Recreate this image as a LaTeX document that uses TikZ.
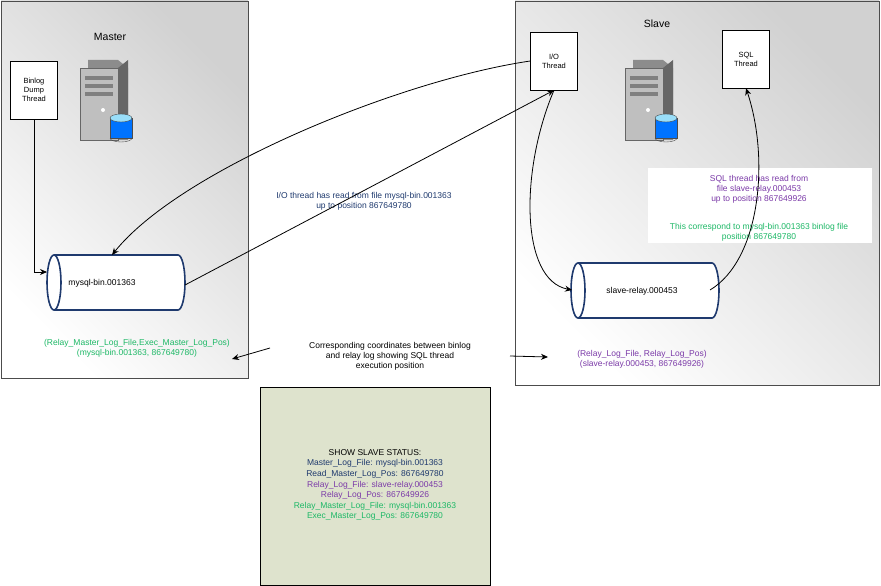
\documentclass[tikz,border=0pt]{standalone}
\usepackage{fontspec}
\setmainfont{Liberation Sans}
\usetikzlibrary{shapes.geometric,arrows.meta}
\definecolor{navy}{HTML}{1F3A6E}
\definecolor{grn}{HTML}{1DB866}
\definecolor{purp}{HTML}{7B3AA8}
\begin{document}
\begin{tikzpicture}[x=1pt,y=-1pt,
  every node/.style={font=\fontsize{8.5}{10}\selectfont,align=center,inner sep=1pt},
  panel/.style={draw=black!70,left color=white,right color=black!18,shading angle=135},
  thread/.style={draw,fill=white,minimum width=47,minimum height=58,font=\fontsize{7.5}{9}\selectfont},
  arr/.style={-{Stealth[length=7pt,width=6pt]},thick},
  cyl/.style={draw=navy,line width=1.6pt,fill=white}]
\useasboundingbox (0,0) rectangle (881,586);
\fill[panel] (1,1) rectangle (248,378);
\fill[panel] (515,1) rectangle (879,385);
\node[font=\fontsize{10.5}{12}\selectfont] (mt) at (110,37) {Master};
\node[font=\fontsize{10.5}{12}\selectfont] (st) at (657,24) {Slave};
% server icons
\foreach \cx/\nm in {105/m,650/s}{
  \begin{scope}[shift={(\cx,100)}]
  \fill[black!45] (-17,-40) -- (13,-40) -- (23,-32) -- (23,40) -- (-7,40) -- (-17,30) -- cycle;
  \fill[black!25,draw=black!60] (-25,-32) rectangle (13,40);
  \fill[black!60] (13,-32) -- (23,-40) -- (23,32) -- (13,40) -- cycle;
  \foreach \yy in {-24,-16,-8}{\fill[black!50] (-20,\yy) rectangle (8,\yy+4);}
  \fill[white] (-2,10) circle (2);
  \fill[blue!55!cyan,draw=black!70] (5,18) rectangle (27,38);
  \draw[black!70,fill=cyan!40] (16,18) ellipse (11pt and 4pt);
  \draw[black!70] (5,38) arc (180:360:11pt and 4pt);
  \end{scope}}
\node[thread] (bd) at (34,90) {Binlog\\Dump\\Thread};
\node[thread] (io) at (554,61) {I/O\\Thread};
\node[thread] (sql) at (746,59) {SQL\\Thread};
% cylinders
\draw[cyl] (54,255) -- (178,255) arc (90:-90:7pt and 27.5pt) -- (54,310) arc (270:90:7pt and 27.5pt) -- cycle;
\draw[cyl] (54,255) arc (90:-90:7pt and 27.5pt);
\node (mb) at (102,283) {mysql-bin.001363};
\coordinate (mbl) at (47,272);
\coordinate (mbr) at (185,285);
\draw[cyl] (578,263) -- (712,263) arc (90:-90:7pt and 27.5pt) -- (578,318) arc (270:90:7pt and 27.5pt) -- cycle;
\draw[cyl] (578,263) arc (90:-90:7pt and 27.5pt);
\node (sr) at (642,291) {slave-relay.000453};
% white note
\fill[white] (648,168) rectangle (872,243);
\node[text=purp] (n1) at (759,189) {SQL thread has read from\\file slave-relay.000453\\up to position 867649926};
\node[text=grn] (n2) at (759,232) {This correspond to mysql-bin.001363 binlog file\\position 867649780};
\node[text=navy] (io1) at (364,201) {I/O thread has read from file mysql-bin.001363\\up to position 867649780};
\node[text=grn] (g1) at (137,348) {(Relay\_Master\_Log\_File,Exec\_Master\_Log\_Pos)\\(mysql-bin.001363, 867649780)};
\node (c1) at (390,356) {Corresponding coordinates between binlog\\and relay log showing SQL thread\\execution position};
\node[text=purp] (p1) at (642,359) {(Relay\_Log\_File, Relay\_Log\_Pos)\\(slave-relay.000453, 867649926)};
% arrows
\draw[arr] (bd.south) |- (mbl);
\draw[arr] (io.west) .. controls (400,80) and (180,170) .. (112,255);
\draw[arr] (mbr) -- (io.south);
\draw[arr] (io.south) .. controls (520,170) and (520,280) .. (572,290);
\draw[arr] (710,290) .. controls (760,260) and (770,160) .. (sql.south);
\draw[arr] (270,348) -- (232,359);
\draw[arr] (510,356) -- (548,357);
% status box
\draw[fill={rgb,255:red,222;green,227;blue,205}] (260,387) rectangle (490,585);
\node[font=\fontsize{8.5}{10.6}\selectfont] (ss) at (375,485) {SHOW SLAVE STATUS:\\
\textcolor{navy}{Master\_Log\_File: mysql-bin.001363}\\
\textcolor{navy}{Read\_Master\_Log\_Pos: 867649780}\\
\textcolor{purp}{Relay\_Log\_File: slave-relay.000453}\\
\textcolor{purp}{Relay\_Log\_Pos: 867649926}\\
\textcolor{grn}{Relay\_Master\_Log\_File: mysql-bin.001363}\\
\textcolor{grn}{Exec\_Master\_Log\_Pos: 867649780}};
\end{tikzpicture}
\end{document}
